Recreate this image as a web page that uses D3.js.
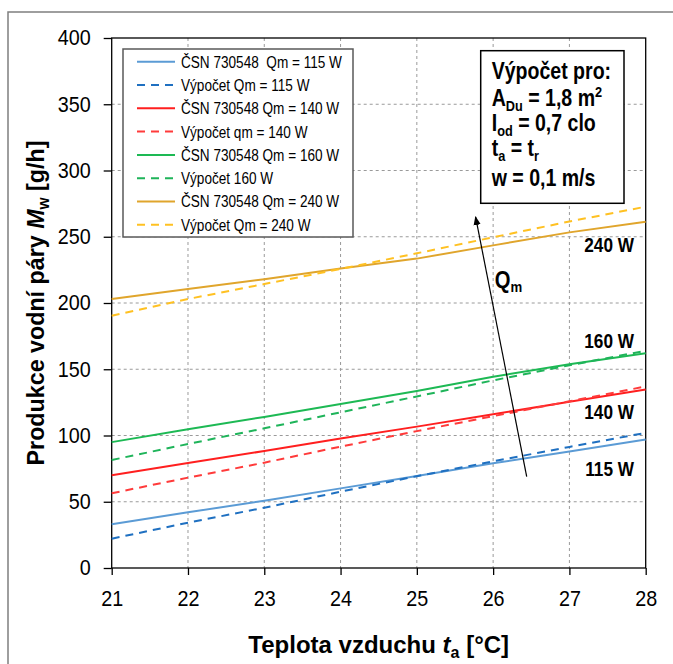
<!DOCTYPE html>
<html><head><meta charset="utf-8">
<script src="https://cdn.jsdelivr.net/npm/d3@7"></script>
<style>
html,body{margin:0;padding:0;background:#fff;}
svg{display:block;}
text{font-family:"Liberation Sans",Arial,sans-serif;fill:#000;}
</style></head>
<body>
<script>
// ---- data ----
const temps = [21, 22, 23, 24, 25, 26, 27, 28];
const csn115  = [33, 42, 50.8, 60.1, 69.5, 79, 88, 97];
const calc115 = [22.1, 34.2, 45.5, 57.6, 69.3, 80.5, 91.4, 102];
const csn140  = [70, 79.2, 88.3, 97.8, 106.7, 116, 125.4, 134.8];
const calc140 = [56.4, 68.2, 79.5, 91.6, 103.3, 114.6, 125.8, 137];
const csn160  = [95, 104.7, 114, 123.8, 133.6, 144.4, 153.7, 162];
const calc160 = [81.5, 93.6, 105.4, 117.5, 129.5, 141.6, 153, 164];
const csn240  = [203, 210.6, 218, 226, 233.5, 243.5, 253.3, 261.4];
const calc240 = [190.4, 203, 214.3, 225.7, 237.5, 249.6, 261.5, 272.7];
const seriesNames = ["ČSN 730548  Qm = 115 W", "Výpočet Qm = 115 W", "ČSN 730548 Qm = 140 W", "Výpočet qm = 140 W",
  "ČSN 730548 Qm = 160 W", "Výpočet 160 W", "ČSN 730548 Qm = 240 W", "Výpočet Qm = 240 W"];
const seriesValues = [csn115, calc115, csn140, calc140, csn160, calc160, csn240, calc240];
const seriesColors = ["#5b9bd5", "#1f70c1", "#ff1f1f", "#ff3b3b", "#1db954", "#1fb45a", "#e0a52c", "#ffc122"];
const seriesDashed = [false, true, false, true, false, true, false, true];
const yTicks = [0, 50, 100, 150, 200, 250, 300, 350, 400];
const xTicks = [21, 22, 23, 24, 25, 26, 27, 28];
const endLabels = ["240 W", "160 W", "140 W", "115 W"];
const endLabelY = [238.5, 166, 112.5, 69.4]; // label baseline in data units
const arrowFrom = [26.44, 69], arrowTo = [25.77, 265];
const qmPos = [26.02, 211];

const W = 673, H = 664;
const m = {l: 111.7, r: 645.7, t: 38, b: 568};
const svg = d3.select("body").append("svg").attr("width", W).attr("height", H);

function narrow(sel, k) {
  sel.each(function () {
    const t = d3.select(this);
    const x0 = +t.attr("x") || 0;
    t.attr("transform", `translate(${x0},0) scale(${k},1) translate(${-x0},0)`);
  });
}

// outer border
svg.append("rect").attr("x", 8).attr("y", 12).attr("width", W + 20).attr("height", H + 20)
  .attr("fill", "none").attr("stroke", "#7f7f7f").attr("stroke-width", 1.5);

const x = d3.scaleLinear().domain([21, 28]).range([m.l, m.r]);
const y = d3.scaleLinear().domain([0, 400]).range([m.b, m.t]);

// grid
const g = svg.append("g");
g.selectAll(".gx").data(xTicks.slice(1, -1)).join("line")
  .attr("x1", d => x(d)).attr("x2", d => x(d)).attr("y1", m.t).attr("y2", m.b)
  .attr("stroke", "#9a9a9a").attr("stroke-width", 1).attr("stroke-dasharray", "3,3");
g.selectAll(".gy").data(yTicks.slice(1, -1)).join("line")
  .attr("y1", d => y(d)).attr("y2", d => y(d)).attr("x1", m.l).attr("x2", m.r)
  .attr("stroke", "#9a9a9a").attr("stroke-width", 1).attr("stroke-dasharray", "3,3");

// axes
const ax = svg.append("g").attr("transform", `translate(0,${m.b})`)
  .call(d3.axisBottom(x).tickValues(xTicks).tickFormat(d3.format("d")).tickSize(7).tickSizeOuter(0).tickPadding(16));
const ay = svg.append("g").attr("transform", `translate(${m.l},0)`)
  .call(d3.axisLeft(y).tickValues(yTicks).tickSize(8).tickSizeOuter(0).tickPadding(13));
[ax, ay].forEach(a => {
  a.select(".domain").remove();
  a.selectAll("line").attr("stroke", "#000").attr("stroke-width", 1.3);
  a.selectAll("text").style("font-size", "21.5px").attr("fill", "#000").call(narrow, 0.92);
});
// frame
svg.append("rect").attr("x", m.l).attr("y", m.t).attr("width", m.r - m.l).attr("height", m.b - m.t)
  .attr("fill", "none").attr("stroke", "#000").attr("stroke-width", 1.3);

// series
const line = d3.line().x((d, i) => x(temps[i])).y(d => y(d));
seriesValues.forEach((vals, i) => {
  svg.append("path").datum(vals).attr("d", line).attr("fill", "none")
    .attr("stroke", seriesColors[i]).attr("stroke-width", 2)
    .attr("stroke-dasharray", seriesDashed[i] ? "8,6" : null);
});

// end labels
endLabels.forEach((t, i) => {
  svg.append("text").attr("x", 634).attr("y", y(endLabelY[i])).attr("text-anchor", "end")
    .style("font-size", "21px").style("font-weight", "bold").text(t).call(narrow, 0.82);
});

// arrow
svg.append("defs").append("marker").attr("id", "ah").attr("viewBox", "0 0 10 10").attr("refX", 9).attr("refY", 5)
  .attr("markerWidth", 9).attr("markerHeight", 9).attr("markerUnits", "userSpaceOnUse").attr("orient", "auto")
  .append("path").attr("d", "M0,1 L10,5 L0,9 Z").attr("fill", "#000");
svg.append("line").attr("x1", x(arrowFrom[0])).attr("y1", y(arrowFrom[1])).attr("x2", x(arrowTo[0])).attr("y2", y(arrowTo[1]))
  .attr("stroke", "#000").attr("stroke-width", 1.2).attr("marker-end", "url(#ah)");
const qt = svg.append("text").attr("x", x(qmPos[0])).attr("y", y(qmPos[1])).style("font-size", "23px").style("font-weight", "bold");
qt.append("tspan").text("Q");
qt.append("tspan").attr("dy", 4).style("font-size", "15px").text("m");
qt.call(narrow, 0.88);

// legend
const lg = svg.append("g");
lg.append("rect").attr("x", 123).attr("y", 49).attr("width", 230).attr("height", 188)
  .attr("fill", "#fff").attr("stroke", "#595959").attr("stroke-width", 1.5);
seriesNames.forEach((n, i) => {
  const yy = 61.7 + i * 23.3;
  lg.append("line").attr("x1", 137).attr("x2", 175).attr("y1", yy).attr("y2", yy)
    .attr("stroke", seriesColors[i]).attr("stroke-width", 2).attr("stroke-dasharray", seriesDashed[i] ? "8,6" : null);
  lg.append("text").attr("x", 181).attr("y", yy + 6).style("font-size", "17px").style("white-space", "pre").text(n)
    .call(narrow, 0.8);
});

// info box
const ib = svg.append("g");
ib.append("rect").attr("x", 480.7).attr("y", 50.7).attr("width", 143.3).attr("height", 152.6)
  .attr("fill", "#fff").attr("stroke", "#000").attr("stroke-width", 1.5);
const fs = "23px", ss = "15px";
function infoLine(yy, parts) {
  const t = ib.append("text").attr("x", 491.7).attr("y", yy).style("font-size", fs).style("font-weight", "bold");
  parts.forEach(p => {
    const s = t.append("tspan").text(p[0]);
    if (p[1] === "sub") s.attr("dy", 5).style("font-size", ss);
    else if (p[1] === "sup") s.attr("dy", -9).style("font-size", ss);
    else if (p[1] === "back") s.attr("dy", p[2]);
  });
  t.call(narrow, 0.85);
}
infoLine(79.5, [["Výpočet pro:"]]);
infoLine(106, [["A"], ["Du", "sub"], [" = 1,8 m", "back", -5], ["2", "sup"]]);
infoLine(131, [["I"], ["od", "sub"], [" = 0,7 clo", "back", -5]]);
infoLine(156, [["t"], ["a", "sub"], [" = t", "back", -5], ["r", "sub"]]);
infoLine(186, [["w = 0,1 m/s"]]);

// axis titles
const xt = svg.append("text").attr("x", (m.l + m.r) / 2).attr("y", 653).attr("text-anchor", "middle")
  .style("font-size", "24px").style("font-weight", "bold");
xt.append("tspan").text("Teplota vzduchu ");
xt.append("tspan").style("font-style", "italic").text("t");
xt.append("tspan").attr("dy", 5).style("font-size", "16px").text("a");
xt.append("tspan").attr("dy", -5).text(" [°C]");

const yt = svg.append("text").attr("transform", `translate(44,${(m.t + m.b) / 2}) rotate(-90) scale(0.97,1)`).attr("text-anchor", "middle")
  .style("font-size", "24px").style("font-weight", "bold");
yt.append("tspan").text("Produkce vodní páry ");
yt.append("tspan").style("font-style", "italic").text("M");
yt.append("tspan").attr("dy", 5).style("font-size", "16px").text("w");
yt.append("tspan").attr("dy", -5).text(" [g/h]");
</script>
</body></html>
